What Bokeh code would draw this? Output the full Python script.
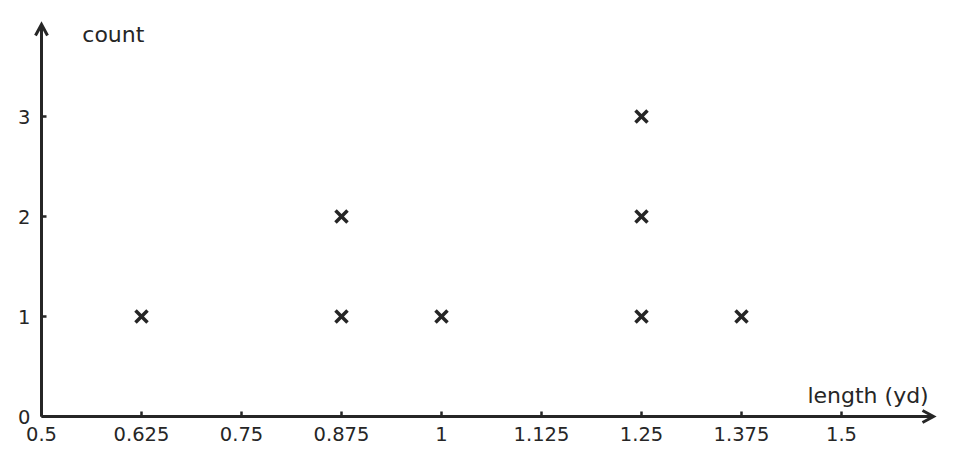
from bokeh.plotting import figure
from bokeh.models import Label, Range1d, FixedTicker
from bokeh.embed import file_html
from bokeh.resources import INLINE

# data
lengths = [0.625, 0.875, 1.0, 1.25, 1.375]
counts = [1, 2, 1, 3, 1]
x_ticks = [0.5, 0.625, 0.75, 0.875, 1.0, 1.125, 1.25, 1.375, 1.5]
x_tick_labels = ["0.5", "0.625", "0.75", "0.875", "1", "1.125", "1.25", "1.375", "1.5"]
y_ticks = [0, 1, 2, 3]
x_title = "length (yd)"
y_title = "count"

INK = "#262626"
FONT = "DejaVu Sans"

X0, X1 = 0.5, 1.615
Y0, Y1 = 0.0, 3.92
W, H = 950, 460
BL, BR, BT, BB = 41, 17, 24, 44
px_x = (W - BL - BR) / (X1 - X0)   # pixels per x unit
px_y = (H - BT - BB) / (Y1 - Y0)   # pixels per y unit

xs, ys = [], []
for L, c in zip(lengths, counts):
    for k in range(1, c + 1):
        xs.append(L)
        ys.append(k)

p = figure(width=W, height=H, output_backend="svg", toolbar_location=None,
           x_range=Range1d(X0, X1), y_range=Range1d(Y0, Y1),
           min_border_left=BL, min_border_bottom=BB, min_border_top=BT, min_border_right=BR)
p.outline_line_color = None
p.xgrid.visible = False
p.ygrid.visible = False
p.background_fill_color = "white"
p.border_fill_color = "white"

for ax in (p.xaxis[0], p.yaxis[0]):
    ax.axis_line_color = INK
    ax.axis_line_width = 3
    ax.major_tick_in = 5
    ax.major_tick_out = 0
    ax.minor_tick_line_color = None
    ax.major_tick_line_color = INK
    ax.major_tick_line_width = 2.5
    ax.major_label_text_font = FONT
    ax.major_label_text_font_size = "19.5px"
    ax.major_label_text_color = INK

p.xaxis[0].ticker = FixedTicker(ticks=x_ticks)
p.xaxis[0].major_label_overrides = {t: s for t, s in zip(x_ticks, x_tick_labels)}
p.xaxis[0].major_label_standoff = 10
p.yaxis[0].ticker = FixedTicker(ticks=y_ticks)
p.yaxis[0].major_label_standoff = 11

p.scatter(xs, ys, marker="x", size=17, line_width=3.5, line_color=INK)

# arrow heads (open chevrons) at the axis ends, 11 px long, 12 px wide
hl, hw = 11, 6
p.line([X1 - hl / px_x, X1, X1 - hl / px_x], [Y0 + hw / px_y, Y0, Y0 - hw / px_y],
       line_width=3, line_color=INK, line_join="miter", level="overlay")
p.line([X0 - hw / px_x, X0, X0 + hw / px_x], [Y1 - hl / px_y, Y1, Y1 - hl / px_y],
       line_width=3, line_color=INK, line_join="miter", level="overlay")

p.add_layout(Label(x=0.551, y=3.82, text=y_title, text_font=FONT, text_font_size="22px",
                   text_color=INK, text_baseline="alphabetic", text_align="left"))
p.add_layout(Label(x=1.609, y=0.21, text=x_title, text_font=FONT, text_font_size="22px",
                   text_color=INK, text_baseline="alphabetic", text_align="right"))

open("out.html", "w").write(file_html(p, INLINE))
